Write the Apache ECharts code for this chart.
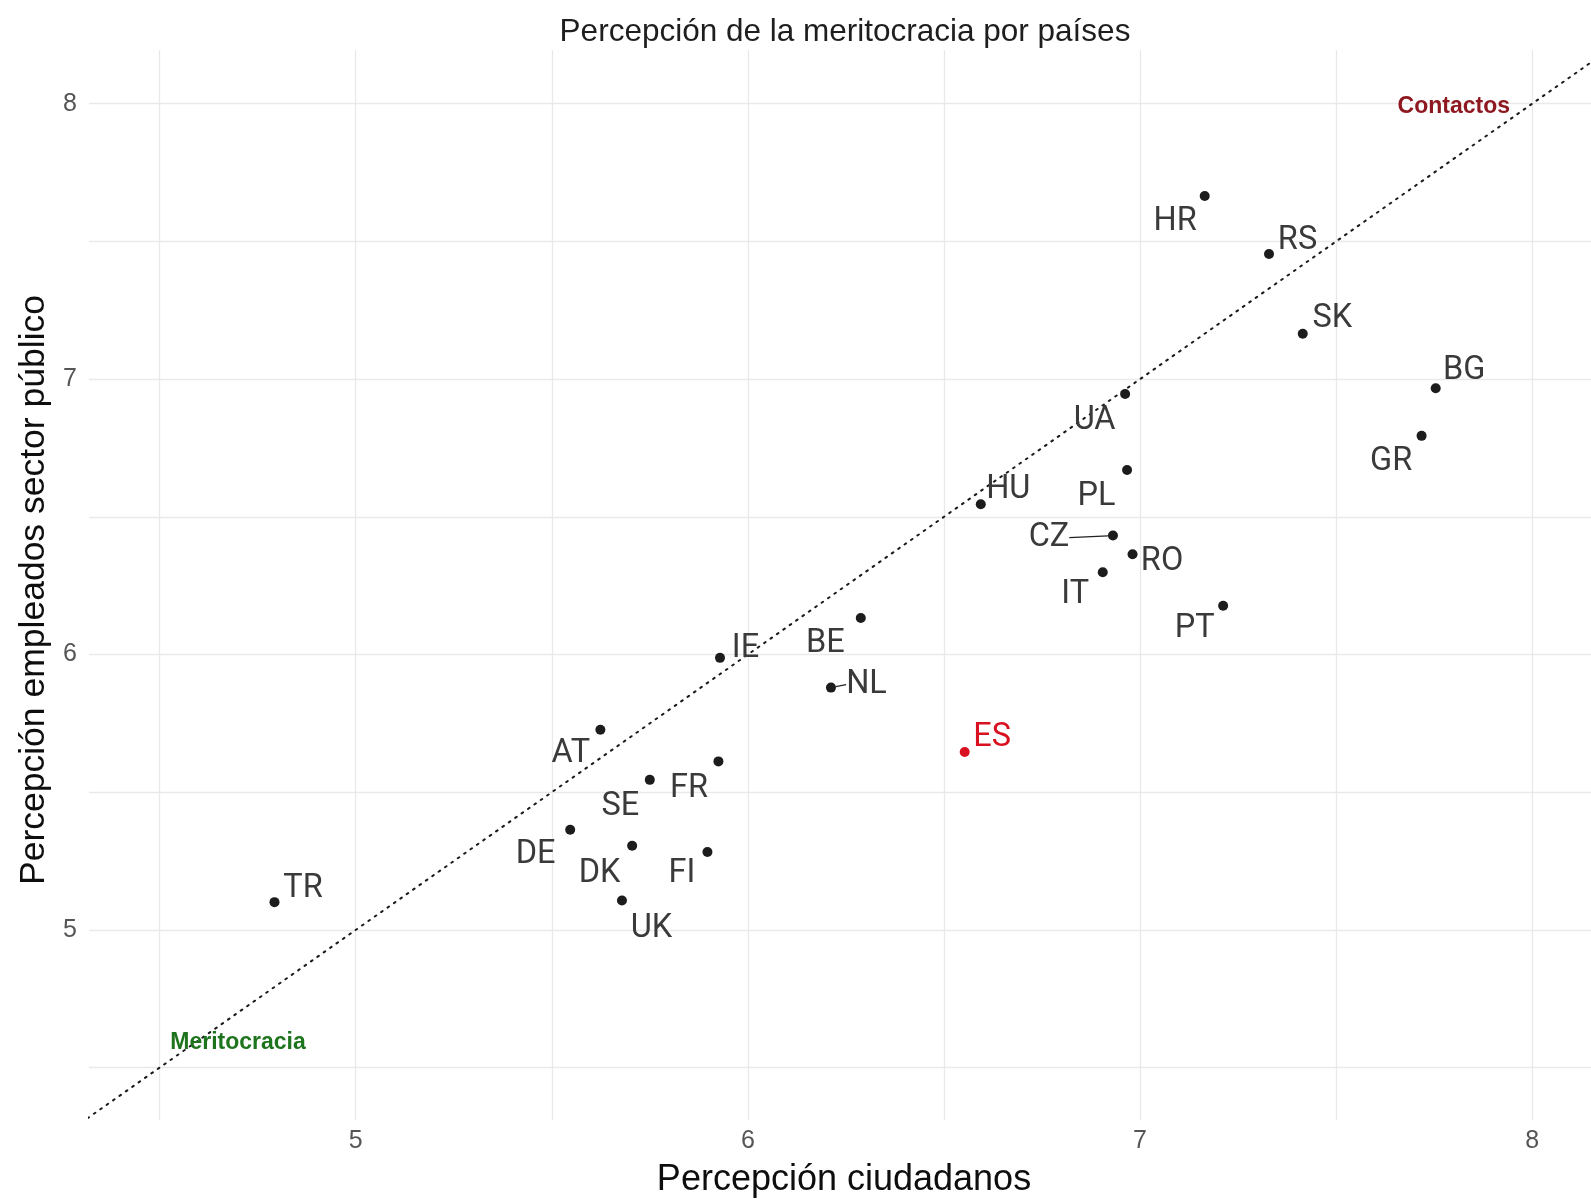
<!DOCTYPE html>
<html>
<head>
<meta charset="utf-8">
<script src="https://cdn.jsdelivr.net/npm/echarts@6/dist/echarts.min.js"></script>
<style>
  html, body { margin: 0; padding: 0; background: #ffffff; }
  #chart { width: 1591px; height: 1199px; }
</style>
</head>
<body>
<div id="chart"></div>
<script>
// ---- Data ----
const countries = ['HR','RS','SK','BG','GR','UA','PL','HU','CZ','RO','IT','PT','BE','IE','NL','ES','AT','FR','SE','DE','DK','FI','UK','TR'];
const citizens  = [7.165,7.329,7.415,7.754,7.718,6.962,6.967,6.594,6.931,6.981,6.905,7.212,6.288,5.929,6.212,6.553,5.624,5.925,5.750,5.547,5.705,5.897,5.679,4.793];
const employees = [7.665,7.454,7.165,6.967,6.794,6.946,6.670,6.546,6.432,6.364,6.299,6.177,6.133,5.988,5.880,5.646,5.727,5.612,5.545,5.364,5.306,5.283,5.107,5.101];
const highlighted = ['ES'];
const refLine = [4.3, 8.2];                 // y = x reference line endpoints
const annotations = [
  { text: 'Contactos',    x: 7.80, y: 8.00 },
  { text: 'Meritocracia', x: 4.70, y: 4.60 }
];
const xTickLabels = [5, 6, 7, 8];
const yTickLabels = [5, 6, 7, 8];
const gridValues  = [4.5, 5, 5.5, 6, 6.5, 7, 7.5, 8];

// ---- Styling / layout (not data) ----
const labelOffsets = {
  HR:[-29.5,26], RS:[28.5,-13], SK:[29.5,-15], BG:[28.5,-17], GR:[-30.5,26],
  UA:[-30.5,26.5], PL:[-30.5,27], HU:[27.5,-14], CZ:[-64,2], RO:[29.5,8],
  IT:[-27.5,22.5], PT:[-28.5,23.5], BE:[-35.5,25.5], IE:[25.5,-9], NL:[35.5,-3],
  ES:[27.5,-14], AT:[-29.5,24.5], FR:[-29.5,27.5], SE:[-29.5,27.5], DE:[-34.5,25.5],
  DK:[-32.5,28.5], FI:[-25.5,21.5], UK:[29.5,28.5], TR:[28.5,-13.5]
};
const withLeader = ['CZ', 'NL'];
const annColors = { 'Contactos': '#8e1820', 'Meritocracia': '#1d741d' };
const dotColor = '#1c1c1c';
const hlColor = '#d9101f';

const pointData = countries.map((c, i) => {
  const isHl = highlighted.indexOf(c) >= 0;
  const item = {
    name: c,
    value: [citizens[i], employees[i]],
    itemStyle: { color: isHl ? hlColor : dotColor, opacity: 1 },
    label: { offset: labelOffsets[c], color: isHl ? hlColor : '#3a3a3a' }
  };
  if (withLeader.indexOf(c) >= 0) {
    item.labelLine = { show: true, lineStyle: { color: '#222', width: 1.3 } };
  }
  return item;
});

const chart = echarts.init(document.getElementById('chart'), null, { renderer: 'canvas' });

const axisFont = 'Liberation Sans, Arial, sans-serif';

const option = {
  backgroundColor: '#ffffff',
  animation: false,
  title: {
    text: 'Percepción de la meritocracia por países',
    left: 840,
    top: 11,
    textAlign: 'center',
    textStyle: { fontFamily: axisFont, fontSize: 31.5, fontWeight: 'normal', color: '#1e1e1e' }
  },
  grid: { left: 89, right: 0, top: 50, bottom: 79, containLabel: false, outerBoundsMode: 'none' },
  xAxis: {
    type: 'value',
    min: 4.32, max: 8.15,
    name: 'Percepción ciudadanos',
    nameLocation: 'middle',
    nameGap: 42,
    nameTextStyle: { fontFamily: axisFont, fontSize: 36, color: '#0e0e0e', padding: [0, 0, 0, 8] },
    axisLine: { show: false },
    axisTick: { show: false, customValues: gridValues },
    axisLabel: { customValues: xTickLabels, fontFamily: axisFont, fontSize: 25, color: '#555555', margin: 9 },
    splitLine: { show: true, lineStyle: { color: '#e9e9e9', width: 1.3 } }
  },
  yAxis: {
    type: 'value',
    min: 4.31, max: 8.195,
    name: 'Percepción empleados sector público',
    nameLocation: 'middle',
    nameGap: 34,
    nameRotate: 90,
    nameTextStyle: { fontFamily: axisFont, fontSize: 35.5, color: '#0e0e0e', padding: [0, 10, 0, 0] },
    axisLine: { show: false },
    axisTick: { show: false, customValues: gridValues },
    axisLabel: { customValues: yTickLabels, fontFamily: axisFont, fontSize: 25, color: '#555555', margin: 12 },
    splitLine: { show: true, lineStyle: { color: '#e9e9e9', width: 1.3 } }
  },
  series: [
    {
      type: 'line',
      data: [[refLine[0], refLine[0]], [refLine[1], refLine[1]]],
      symbol: 'none',
      clip: true,
      silent: true,
      lineStyle: { color: '#1a1a1a', width: 2, type: [1.8, 6], cap: 'round', opacity: 1 },
      z: 2
    },
    {
      type: 'scatter',
      data: annotations.map(a => ({
        name: a.text, value: [a.x, a.y],
        label: { color: annColors[a.text] }
      })),
      symbolSize: 0,
      silent: true,
      itemStyle: { opacity: 1 },
      label: {
        show: true, position: 'inside', formatter: '{b}', offset: [0, 3],
        fontFamily: axisFont, fontWeight: 'bold', fontSize: 23,
        align: 'center', verticalAlign: 'middle'
      },
      z: 3
    },
    {
      type: 'scatter',
      data: pointData,
      symbol: 'circle',
      symbolSize: 10,
      itemStyle: { opacity: 1 },
      label: {
        show: true, position: 'inside', formatter: '{b}',
        fontFamily: 'Roboto, sans-serif', fontSize: 32.5,
        align: 'center', verticalAlign: 'middle'
      },
      z: 4
    }
  ]
};
chart.setOption(option);
</script>
</body>
</html>
